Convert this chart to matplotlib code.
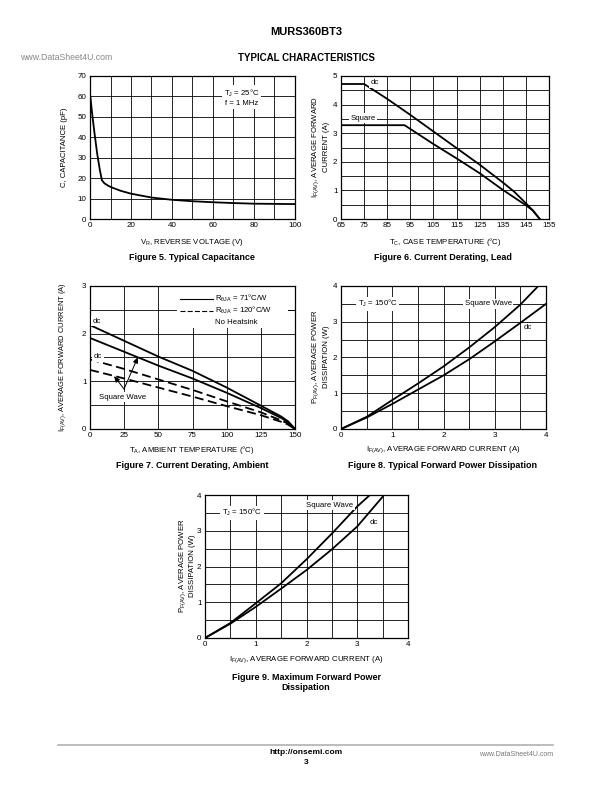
import matplotlib
matplotlib.use('Agg')
import matplotlib.pyplot as plt
from matplotlib.patches import Rectangle

plt.rcParams['font.family'] = ['Liberation Sans', 'DejaVu Sans']
plt.rcParams['mathtext.fontset'] = 'custom'
plt.rcParams['mathtext.rm'] = 'Liberation Sans'
plt.rcParams['mathtext.it'] = 'Liberation Sans:italic'
plt.rcParams['mathtext.bf'] = 'Liberation Sans:bold'

# Figure 5: typical capacitance
cap_vr = [0, 1, 2.2, 3.5, 4.8, 5.8, 7, 9, 11, 15, 20, 30, 40, 50, 60, 70, 80, 90, 100]
cap_c = [61.5, 52, 42, 32, 24, 19, 17.5, 16.2, 15.3, 13.8, 12.4, 10.5, 9.4, 8.7, 8.2, 7.8, 7.5, 7.4, 7.3]

# Figure 6: current derating, lead
lead_dc_t = [65, 75, 85, 95, 105, 115, 125, 135, 140, 145, 148, 150, 151]
lead_dc_i = [4.72, 4.72, 4.2, 3.64, 3.06, 2.48, 1.9, 1.28, 0.95, 0.55, 0.3, 0.1, 0]
lead_sq_t = [65, 92.5, 105, 115, 125, 135, 140, 145, 148, 150, 151]
lead_sq_i = [3.28, 3.28, 2.62, 2.12, 1.6, 1.02, 0.75, 0.48, 0.3, 0.1, 0]

# Figure 7: current derating, ambient
amb_t = [0, 25, 50, 75, 100, 125, 140, 145, 150]
amb_dc_71 = [2.18, 1.85, 1.52, 1.22, 0.87, 0.49, 0.26, 0.16, 0]
amb_sq_71 = [1.91, 1.62, 1.33, 1.06, 0.76, 0.44, 0.23, 0.14, 0]
amb_dc_120 = [1.46, 1.26, 1.04, 0.82, 0.58, 0.35, 0.18, 0.11, 0]
amb_sq_120 = [1.24, 1.06, 0.87, 0.68, 0.48, 0.29, 0.15, 0.09, 0]

# Figure 8: typical forward power dissipation
typ_sq_i = [0, 0.5, 1, 1.5, 2, 2.5, 3, 3.5, 3.85]
typ_sq_p = [0, 0.34, 0.81, 1.27, 1.75, 2.28, 2.85, 3.48, 4.0]
typ_dc_i = [0, 0.5, 1, 1.5, 2, 2.5, 3, 3.5, 4]
typ_dc_p = [0, 0.32, 0.7, 1.1, 1.5, 1.95, 2.45, 2.97, 3.5]

# Figure 9: maximum forward power dissipation
max_sq_i = [0, 0.5, 1, 1.5, 2, 2.5, 3, 3.25]
max_sq_p = [0, 0.42, 0.97, 1.53, 2.2, 2.92, 3.68, 4.0]
max_dc_i = [0, 0.5, 1, 1.5, 2, 2.5, 3, 3.5]
max_dc_p = [0, 0.4, 0.87, 1.38, 1.9, 2.48, 3.12, 3.95]

W, H = 612, 792
fig = plt.figure(figsize=(W / 100, H / 100), dpi=100)


def fx(x):
    return x / W


def fy(y):
    return 1 - y / H


def make_ax(left, top, right, bottom):
    ax = fig.add_axes([fx(left), fy(bottom), (right - left) / W, (bottom - top) / H])
    ax.set_axisbelow(True)
    ax.grid(True, which='both', color='black', linewidth=0.6)
    ax.tick_params(which='both', length=0, labelsize=5.8, pad=2.5)
    for s in ax.spines.values():
        s.set_linewidth(0.9)
    return ax


LW = 1.3
FS = 5.6
box = dict(facecolor='white', edgecolor='none', pad=1.2)

# ---- Figure 5
ax1 = make_ax(90, 76, 295, 219)
ax1.plot(cap_vr, cap_c, color='black', lw=LW)
ax1.set_xlim(0, 100)
ax1.set_ylim(0, 70)
ax1.set_xticks(range(0, 101, 20))
ax1.set_xticks(range(0, 101, 10), minor=True)
ax1.set_yticks(range(0, 71, 10))
ax1.text(74, 59.5, 'T$_\\mathregular{J}$ = 25°C\nf = 1 MHz', fontsize=FS, ha='center', va='center',
         bbox=box, linespacing=1.3)
fig.text(fx(64), fy(147), 'C, CAPACITANCE (pF)', rotation=90, fontsize=FS, ha='center', va='center')
fig.text(fx(192), fy(242), 'V$_\\mathregular{R}$, REVERSE VOLTAGE (V)', fontsize=FS, ha='center', va='center')
fig.text(fx(192), fy(257), 'Figure 5. Typical Capacitance', fontsize=6.5, weight='bold', ha='center', va='center')

# ---- Figure 6
ax2 = make_ax(341, 76, 549, 219)
ax2.plot(lead_dc_t, lead_dc_i, color='black', lw=LW)
ax2.plot(lead_sq_t, lead_sq_i, color='black', lw=LW)
ax2.set_xlim(65, 155)
ax2.set_ylim(0, 5)
ax2.set_xticks(range(65, 156, 10))
ax2.set_yticks(range(0, 6))
ax2.set_yticks([i * 0.5 for i in range(11)], minor=True)
ax2.text(79.5, 4.76, 'dc', fontsize=FS, ha='center', va='center', bbox=box)
ax2.text(74.5, 3.53, 'Square', fontsize=FS, ha='center', va='center', bbox=box)
fig.text(fx(316), fy(147), 'I$_\\mathregular{F(AV)}$, AVERAGE FORWARD', rotation=90, fontsize=FS, ha='center', va='center')
fig.text(fx(326), fy(147), 'CURRENT (A)', rotation=90, fontsize=FS, ha='center', va='center')
fig.text(fx(445), fy(242), 'T$_\\mathregular{C}$, CASE TEMPERATURE (°C)', fontsize=FS, ha='center', va='center')
fig.text(fx(443), fy(257), 'Figure 6. Current Derating, Lead', fontsize=6.5, weight='bold', ha='center', va='center')

# ---- Figure 7
ax3 = make_ax(90, 286, 295, 429)
dash = (0, (5, 2.5))
ax3.plot(amb_t, amb_dc_71, color='black', lw=LW)
ax3.plot(amb_t, amb_sq_71, color='black', lw=LW)
ax3.plot(amb_t, amb_dc_120, color='black', lw=LW, ls=dash)
ax3.plot(amb_t, amb_sq_120, color='black', lw=LW, ls=dash)
ax3.set_xlim(0, 150)
ax3.set_ylim(0, 3)
ax3.set_xticks(range(0, 151, 25))
ax3.set_yticks(range(0, 4))
ax3.set_yticks([i * 0.5 for i in range(7)], minor=True)
ax3.add_patch(Rectangle((63.5, 2.12), 81.5, 0.86, facecolor='white', edgecolor='none', zorder=1))
ax3.plot([65.5, 90], [2.73, 2.73], color='black', lw=0.8)
ax3.plot([65.5, 90], [2.48, 2.48], color='black', lw=0.8, ls=(0, (4.5, 2)))
ax3.plot([144, 150], [2.5, 2.5], color='black', lw=0.6, zorder=0.6)
ax3.text(91.5, 2.73, 'R$_\\mathregular{\\theta JA}$ = 71°C/W', fontsize=FS, va='center')
ax3.text(91.5, 2.48, 'R$_\\mathregular{\\theta JA}$ = 120°C/W', fontsize=FS, va='center')
ax3.text(91.5, 2.24, 'No Heatsink', fontsize=FS, va='center')
ax3.text(5.2, 2.26, 'dc', fontsize=FS, ha='center', va='center', bbox=box)
ax3.text(6, 1.52, 'dc', fontsize=FS, ha='center', va='center', bbox=box)
ax3.text(23.5, 0.67, 'Square Wave', fontsize=FS, ha='center', va='center', bbox=box)
arr = dict(arrowstyle='-|>,head_length=0.35,head_width=0.15', color='black', lw=0.7, shrinkA=0, shrinkB=0)
ax3.annotate('', xy=(35.1, 1.51), xytext=(24.9, 0.84), arrowprops=arr)
ax3.annotate('', xy=(17.6, 1.11), xytext=(24.9, 0.84), arrowprops=arr)
fig.text(fx(63), fy(357), 'I$_\\mathregular{F(AV)}$, AVERAGE FORWARD CURRENT (A)', rotation=90, fontsize=5.4,
         ha='center', va='center')
fig.text(fx(192), fy(450), 'T$_\\mathregular{A}$, AMBIENT TEMPERATURE (°C)', fontsize=FS, ha='center', va='center')
fig.text(fx(192), fy(466), 'Figure 7. Current Derating, Ambient', fontsize=6.5, weight='bold', ha='center', va='center')

# ---- Figure 8
ax4 = make_ax(341, 286, 546, 429)
ax4.plot(typ_sq_i, typ_sq_p, color='black', lw=LW)
ax4.plot(typ_dc_i, typ_dc_p, color='black', lw=LW)
ax4.set_xlim(0, 4)
ax4.set_ylim(0, 4)
ax4.set_xticks(range(0, 5))
ax4.set_yticks(range(0, 5))
ax4.set_xticks([i * 0.5 for i in range(9)], minor=True)
ax4.set_yticks([i * 0.5 for i in range(9)], minor=True)
ax4.text(0.72, 3.5, 'T$_\\mathregular{J}$ = 150°C', fontsize=FS, ha='center', va='center', bbox=box)
ax4.text(2.87, 3.5, 'Square Wave', fontsize=FS, ha='center', va='center', bbox=box)
ax4.text(3.65, 2.83, 'dc', fontsize=FS, ha='center', va='center', bbox=box)
fig.text(fx(316), fy(357), 'P$_\\mathregular{F(AV)}$, AVERAGE POWER', rotation=90, fontsize=FS, ha='center', va='center')
fig.text(fx(326), fy(357), 'DISSIPATION (W)', rotation=90, fontsize=FS, ha='center', va='center')
fig.text(fx(443), fy(450), 'I$_\\mathregular{F(AV)}$, AVERAGE FORWARD CURRENT (A)', fontsize=FS, ha='center', va='center')
fig.text(fx(443), fy(466), 'Figure 8. Typical Forward Power Dissipation', fontsize=6.5, weight='bold',
         ha='center', va='center')

# ---- Figure 9
ax5 = make_ax(205, 495, 408, 638)
ax5.plot(max_sq_i, max_sq_p, color='black', lw=LW)
ax5.plot(max_dc_i, max_dc_p, color='black', lw=LW)
ax5.set_xlim(0, 4)
ax5.set_ylim(0, 4)
ax5.set_xticks(range(0, 5))
ax5.set_yticks(range(0, 5))
ax5.set_xticks([i * 0.5 for i in range(9)], minor=True)
ax5.set_yticks([i * 0.5 for i in range(9)], minor=True)
ax5.text(0.73, 3.5, 'T$_\\mathregular{J}$ = 150°C', fontsize=FS, ha='center', va='center', bbox=box)
ax5.text(2.46, 3.72, 'Square Wave', fontsize=FS, ha='center', va='center', bbox=box)
ax5.text(3.33, 3.22, 'dc', fontsize=FS, ha='center', va='center', bbox=box)
fig.text(fx(183), fy(566), 'P$_\\mathregular{F(AV)}$, AVERAGE POWER', rotation=90, fontsize=FS, ha='center', va='center')
fig.text(fx(192), fy(566), 'DISSIPATION (W)', rotation=90, fontsize=FS, ha='center', va='center')
fig.text(fx(306), fy(660), 'I$_\\mathregular{F(AV)}$, AVERAGE FORWARD CURRENT (A)', fontsize=FS, ha='center', va='center')
fig.text(fx(306), fy(677), 'Figure 9. Maximum Forward Power', fontsize=6.5, weight='bold', ha='center', va='center')
fig.text(fx(306), fy(688), 'Dissipation', fontsize=6.5, weight='bold', ha='center', va='center')

# ---- page header / footer
fig.text(fx(306), fy(32), 'MURS360BT3', fontsize=8, weight='bold', ha='center', va='center')
fig.text(fx(306), fy(58), 'TYPICAL CHARACTERISTICS', fontsize=7, weight='bold', ha='center', va='center')
fig.text(fx(20), fy(58), 'www.DataSheet4U.com', fontsize=6.3, color='#888888', ha='left', va='center')
fig.add_artist(plt.Line2D([fx(58), fx(553)], [fy(745), fy(745)], color='#b0b0b0', lw=1.2))
fig.text(fx(306), fy(753), 'http://onsemi.com', fontsize=6, weight='bold', ha='center', va='center')
fig.text(fx(306), fy(763), '3', fontsize=6, weight='bold', ha='center', va='center')
fig.text(fx(553), fy(755), 'www.DataSheet4U.com', fontsize=5, color='#777777', ha='right', va='center')

fig.savefig('out.png', dpi=100)
